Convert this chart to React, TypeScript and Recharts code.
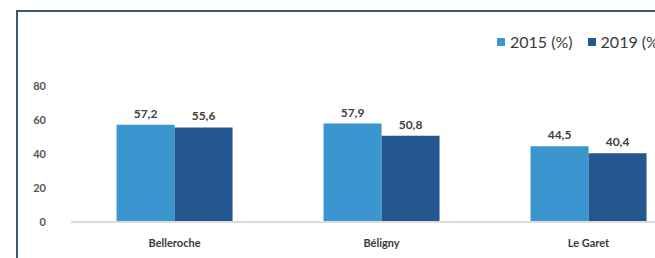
import { BarChart, Bar, XAxis, YAxis, LabelList } from 'recharts';

// ---------------------------------------------------------------------------
// Data
// ---------------------------------------------------------------------------

const communes = ['Belleroche', 'Béligny', 'Le Garet'];
const values2015 = [57.2, 57.9, 44.5];
const values2019 = [55.6, 50.8, 40.4];
const yTicks = [0, 20, 40, 60, 80];
const seriesNames = ['2015 (%)', '2019 (%)'];

const data = communes.map((name, i) => ({
  name,
  y2015: values2015[i],
  y2019: values2019[i],
}));

const LIGHT = '#3b96cf';
const DARK = '#24568f';
const FRAME = '#41576f';
const FONT = 'Lato, "Open Sans", sans-serif';

const fmt = (v: number) => v.toFixed(1).replace('.', ',');

// Legend drawn as plain HTML so it does not eat into the plot area
function ChartLegend() {
  const colors = [LIGHT, DARK];
  return (
    <div
      style={{
        position: 'absolute',
        left: 497,
        top: 32,
        display: 'flex',
        gap: 15,
        fontFamily: FONT,
        fontSize: 16,
        lineHeight: '20px',
        color: '#3a3a3a',
        whiteSpace: 'nowrap',
      }}
    >
      {seriesNames.map((label, i) => (
        <span key={label} style={{ display: 'flex', alignItems: 'center' }}>
          <span style={{ width: 8, height: 8, background: colors[i], marginRight: 5, display: 'inline-block' }} />
          {label}
        </span>
      ))}
    </div>
  );
}

export default function App() {
  return (
    <div
      style={{
        position: 'fixed',
        left: 0,
        top: 0,
        width: 655,
        height: 258,
        overflow: 'hidden',
        background: '#fff',
      }}
    >
      {/* frame, cropped on the right and bottom like the source */}
      <div style={{ position: 'absolute', left: 16, top: 10, width: 2, height: 248, background: FRAME }} />
      <div style={{ position: 'absolute', left: 16, top: 10, width: 639, height: 2, background: FRAME }} />

      <div style={{ position: 'absolute', left: 1, top: 0, width: 654, height: 258, overflow: 'hidden' }}>
        <BarChart
          width={700}
          height={258}
          data={data}
          margin={{ top: 86, right: 9, bottom: 6, left: 0 }}
          barCategoryGap="22%"
          barGap={0}
        >
          <XAxis
            dataKey="name"
            height={30}
            tickLine={false}
            tickSize={0}
            tickMargin={17}
            axisLine={{ stroke: '#dcdcdc', strokeWidth: 2 }}
            tick={{ fill: '#3a3a3a', fontSize: 11, fontWeight: 700, fontFamily: FONT }}
          />
          <YAxis
            width={70}
            domain={[0, 80]}
            ticks={yTicks}
            tickLine={false}
            axisLine={false}
            tickSize={0}
            tickMargin={25}
            tick={{ fill: '#555', fontSize: 11, fontWeight: 700, fontFamily: FONT }}
          />
          <Bar dataKey="y2015" fill={LIGHT} isAnimationActive={false}>
            <LabelList
              dataKey="y2015"
              position="top"
              offset={7}
              formatter={(v: number) => fmt(v)}
              style={{ fill: '#404040', fontSize: 12, fontWeight: 700, fontFamily: FONT }}
            />
          </Bar>
          <Bar dataKey="y2019" fill={DARK} isAnimationActive={false}>
            <LabelList
              dataKey="y2019"
              position="top"
              offset={7}
              formatter={(v: number) => fmt(v)}
              style={{ fill: '#404040', fontSize: 12, fontWeight: 700, fontFamily: FONT }}
            />
          </Bar>
        </BarChart>
      </div>

      <ChartLegend />
    </div>
  );
}
